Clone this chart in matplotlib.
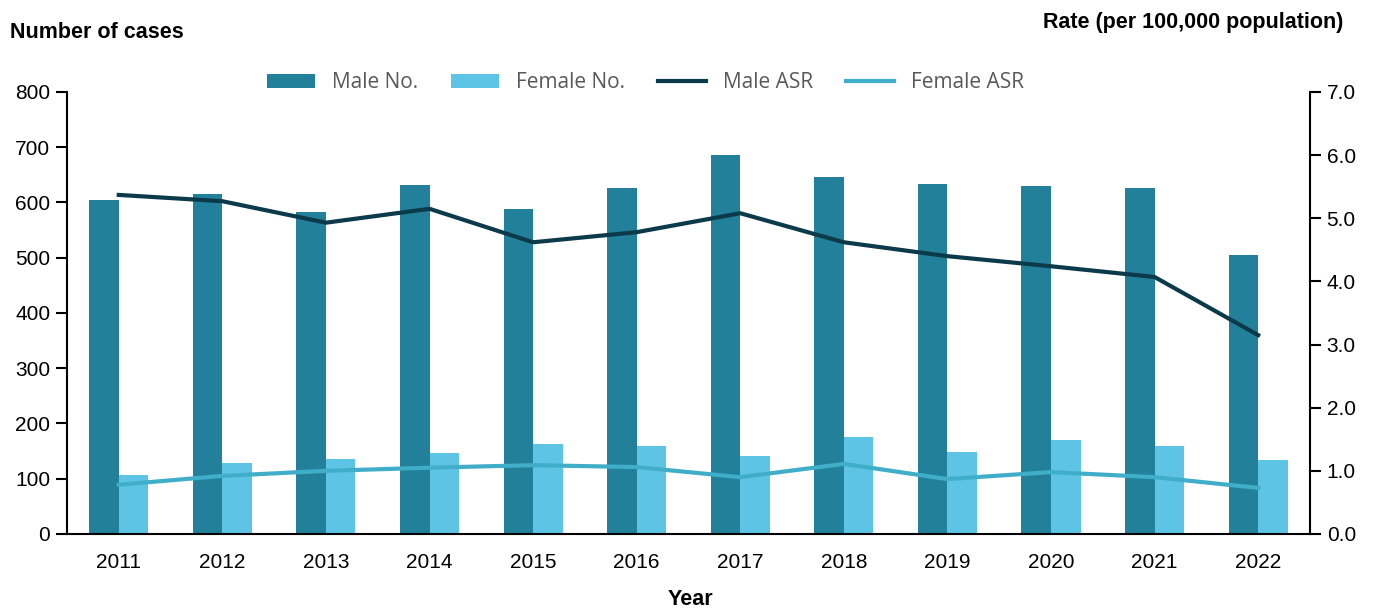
import numpy as np
import matplotlib.pyplot as plt

years = ["2011", "2012", "2013", "2014", "2015", "2016",
         "2017", "2018", "2019", "2020", "2021", "2022"]
male_no = [605, 615, 583, 632, 588, 626, 686, 646, 633, 630, 626, 505]
female_no = [107, 128, 136, 147, 163, 159, 141, 176, 148, 170, 159, 134]
male_asr = [5.37, 5.27, 4.93, 5.15, 4.62, 4.78, 5.08, 4.62, 4.40, 4.24, 4.07, 3.15]
female_asr = [0.78, 0.92, 1.00, 1.05, 1.09, 1.06, 0.90, 1.11, 0.87, 0.98, 0.90, 0.73]

c_male = '#23809A'
c_female = '#5EC4E6'
c_male_line = '#0B3A4A'
c_female_line = '#40AEC8'

plt.rcParams['font.family'] = ['Liberation Sans', 'DejaVu Sans']

fig = plt.figure(figsize=(13.75, 6.1), dpi=100)
ax = fig.add_axes([0.0487, 0.1246, 0.904, 0.7246])
ax2 = ax.twinx()

x = np.arange(len(years))
w = 0.285
ax.bar(x - w / 2, male_no, w, color=c_male, label="Male No.")
ax.bar(x + w / 2, female_no, w, color=c_female, label="Female No.")
ax2.plot(x, male_asr, color=c_male_line, linewidth=3, label="Male ASR")
ax2.plot(x, female_asr, color=c_female_line, linewidth=3, label="Female ASR")

ax.set_xlim(-0.5, len(years) - 0.5)
ax.set_ylim(0, 800)
ax.set_yticks(range(0, 801, 100))
ax2.set_ylim(0, 7)
ax2.set_yticks(np.arange(0, 7.01, 1))
ax2.set_yticklabels([f"{v:.1f}" for v in np.arange(0, 7.01, 1)])

ax.set_xticks(x)
ax.set_xticklabels(years)

for a in (ax, ax2):
    a.spines['top'].set_visible(False)
    for s in a.spines.values():
        s.set_linewidth(1.5)
    a.tick_params(axis='y', labelsize=15, length=8, width=1.5, pad=4)
ax.tick_params(axis='x', labelsize=15, length=0, pad=14)
ax.spines['right'].set_visible(False)
ax2.spines['left'].set_visible(False)
ax2.spines['bottom'].set_visible(False)

fig.text(0.007, 0.946, "Number of cases", fontsize=15.5, fontweight='bold', va='center')
fig.text(0.977, 0.963, "Rate (per 100,000 population)", fontsize=15.5,
         fontweight='bold', ha='right', va='center')
fig.text(0.502, 0.018, "Year", fontsize=15.5, fontweight='bold', ha='center', va='center')

h1, l1 = ax.get_legend_handles_labels()
h2, l2 = ax2.get_legend_handles_labels()
leg = fig.legend(h1 + h2, l1 + l2, loc='center', bbox_to_anchor=(0.4695, 0.864),
                 ncol=4, frameon=False, handlelength=2.3, handleheight=0.7,
                 columnspacing=1.6, handletextpad=0.8,
                 prop={'family': 'Open Sans', 'size': 15})
for t in leg.get_texts():
    t.set_color('#595959')

fig.savefig("out.png", dpi=100)
